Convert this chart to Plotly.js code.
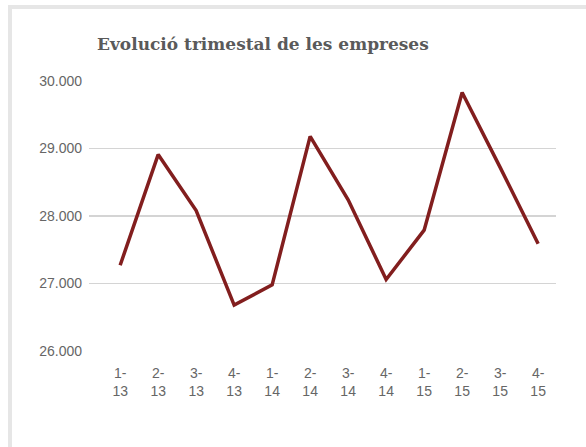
<!DOCTYPE html>
<html>
<head>
<meta charset="utf-8">
<script src="https://cdn.plot.ly/plotly-3.0.1.min.js"></script>
<style>
  html, body { margin: 0; padding: 0; background: #fff; }
  #wrap { position: relative; width: 586px; height: 447px; overflow: hidden; }
  #frame { position: absolute; left: 8px; top: 5px; width: 600px; height: 460px;
           border-top: 4px solid #e6e6e6; border-left: 4px solid #e6e6e6; box-sizing: border-box; }
  #chart { position: absolute; left: 0; top: 0; width: 586px; height: 447px; }
</style>
</head>
<body>
<div id="wrap">
  <div id="frame"></div>
  <div id="chart"></div>
</div>
<script>
const quarters = ["1-<br>13","2-<br>13","3-<br>13","4-<br>13","1-<br>14","2-<br>14","3-<br>14","4-<br>14","1-<br>15","2-<br>15","3-<br>15","4-<br>15"];
const empreses = [27270, 28910, 28080, 26680, 26980, 29180, 28240, 27060, 27790, 29830, 28720, 27590];
const yTicks = [26000, 27000, 28000, 29000, 30000];
const yTickText = ["26.000", "27.000", "28.000", "29.000", "30.000"];

const idx = quarters.map((_, i) => i);

Plotly.newPlot("chart", [{
  type: "scatter",
  mode: "lines",
  x: idx,
  y: empreses,
  line: { color: "#821e1e", width: 3.5 },
  hoverinfo: "skip"
}], {
  width: 586, height: 447,
  margin: { l: 89, r: 30, t: 81, b: 96 },
  paper_bgcolor: "rgba(0,0,0,0)",
  plot_bgcolor: "rgba(0,0,0,0)",
  showlegend: false,
  title: {
    text: "Evolució trimestal de les empreses",
    font: { family: "DejaVu Serif", size: 17, color: "#5a5a5a", weight: "bold" },
    x: 97 / 586, xanchor: "left", xref: "container",
    y: 1 - 44 / 447, yanchor: "middle", yref: "container"
  },
  xaxis: {
    range: [-0.82, 11.47],
    tickvals: idx,
    ticktext: quarters,
    showgrid: false, zeroline: false, showline: false,
    ticks: "", ticklen: 0, ticklabelstandoff: 12,
    tickfont: { family: "Liberation Sans", size: 14, color: "#666" },
    fixedrange: true
  },
  yaxis: {
    range: [26000, 30000],
    tickvals: yTicks,
    ticktext: yTickText,
    showgrid: true, gridcolor: "#d4d4d4", gridwidth: 1.5,
    zeroline: false, showline: false,
    ticks: "", ticklabelstandoff: 6,
    tickfont: { family: "Liberation Sans", size: 14, color: "#666" },
    fixedrange: true
  }
}, { displayModeBar: false, staticPlot: true });
</script>
</body>
</html>
